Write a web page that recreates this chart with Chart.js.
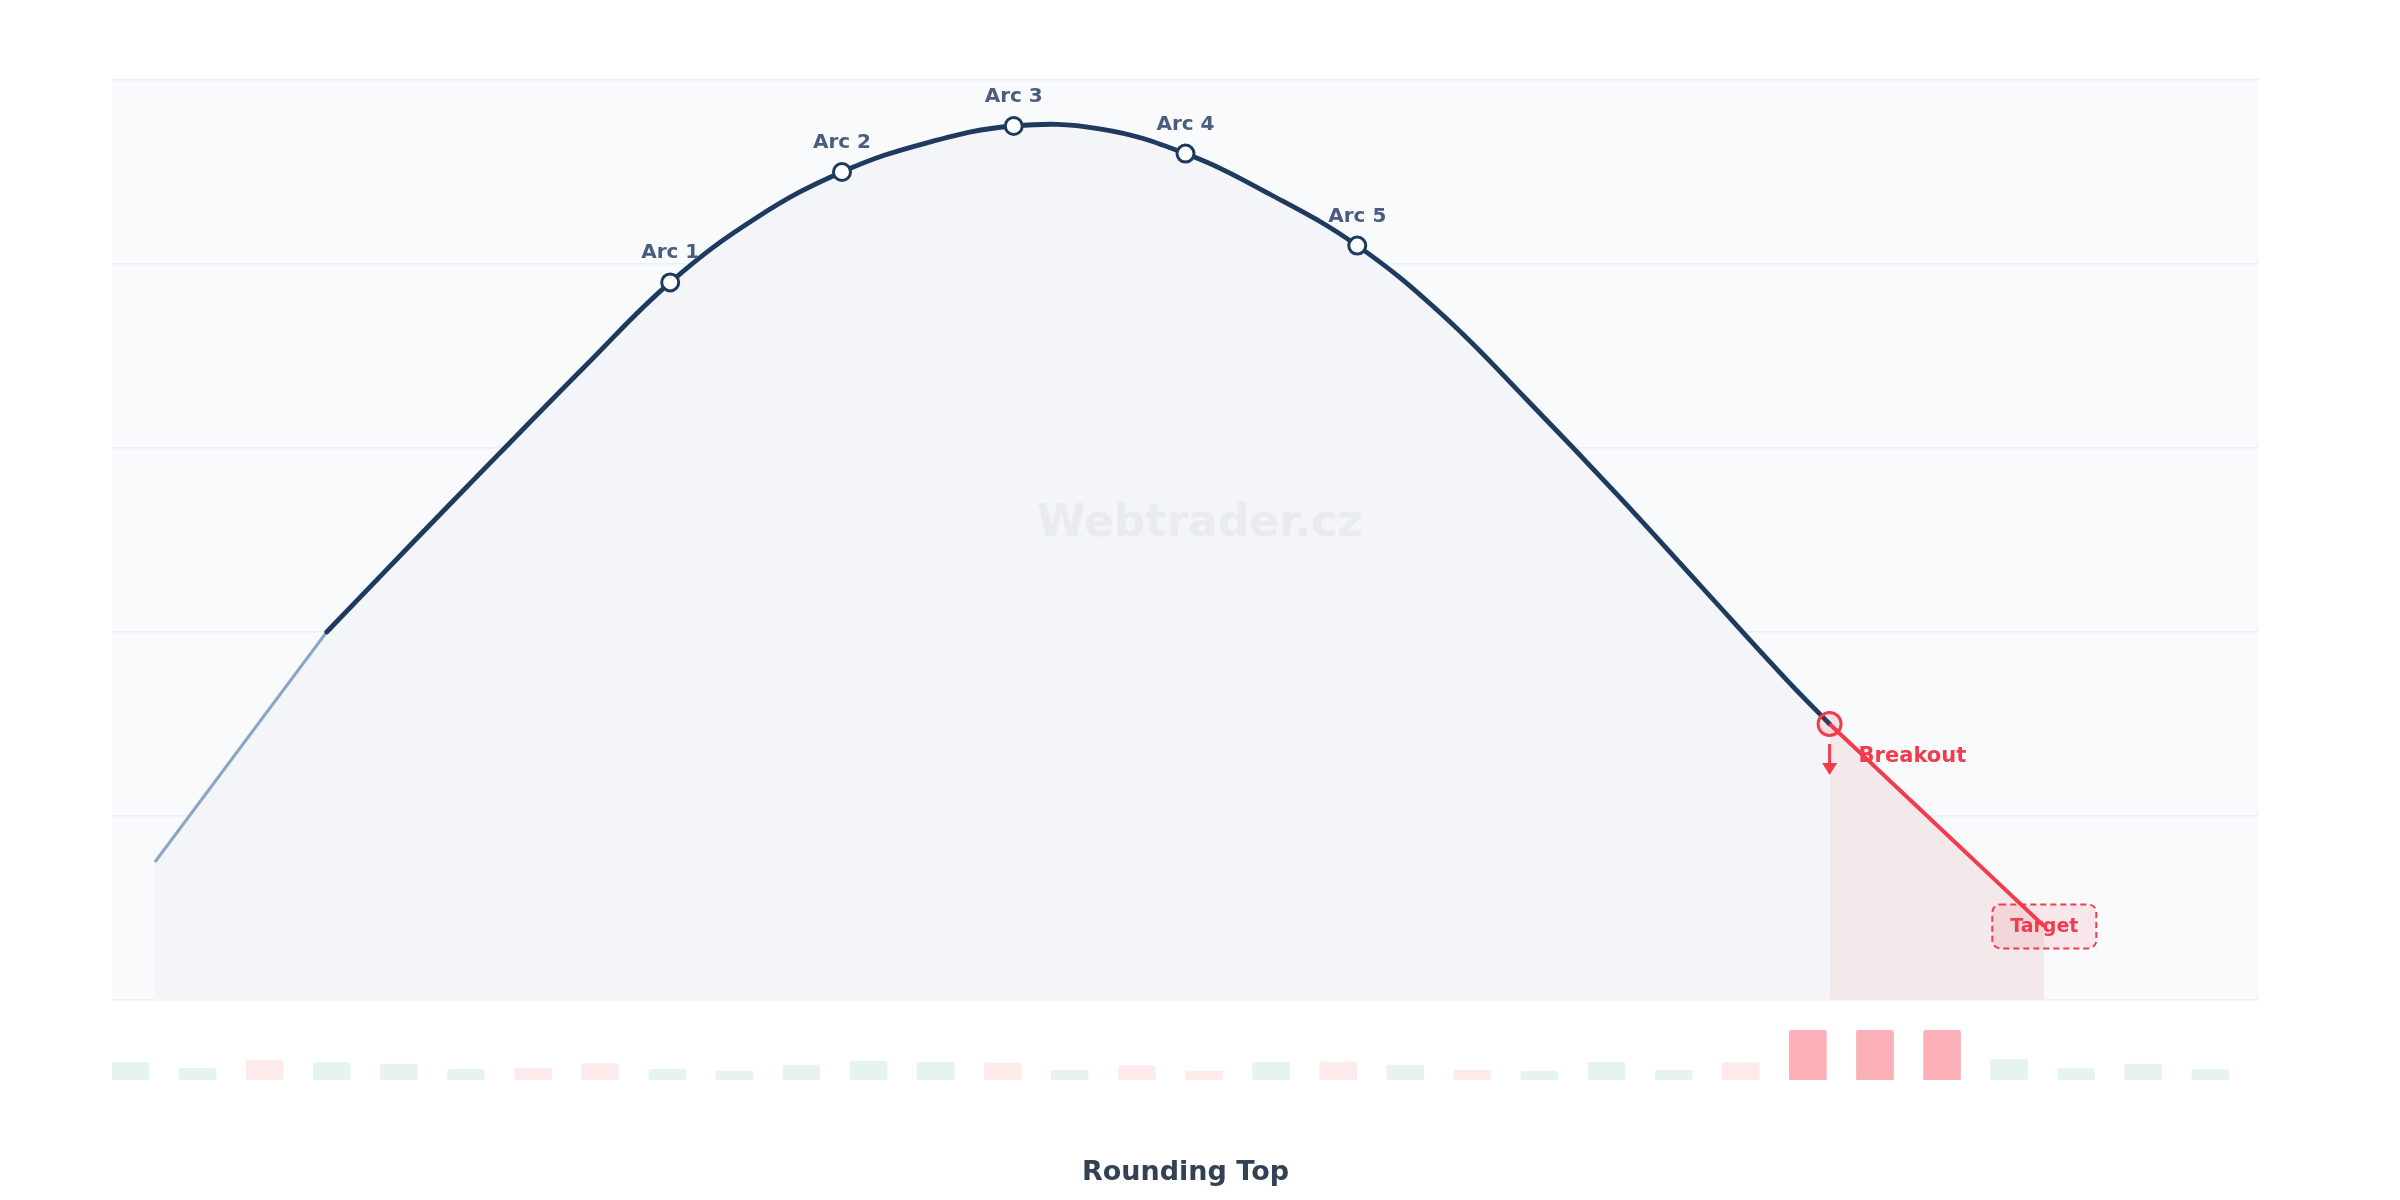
<!DOCTYPE html>
<html>
<head>
<meta charset="utf-8">
<title>Rounding Top</title>
<script src="https://cdn.jsdelivr.net/npm/chart.js@4.4.1/dist/chart.umd.min.js"></script>
<style>
  html, body { margin: 0; padding: 0; background: #ffffff; }
  #wrap { width: 2400px; height: 1200px; }
</style>
</head>
<body>
<div id="wrap"><canvas id="chart"></canvas></div>
<script>
// price path, x = time (0..100), y = price (0..100)
const leadX = [2, 6, 10]
const leadY = [15, 27.5, 40]

const priceX = [10, 14, 18, 22, 26, 30, 34, 38, 42, 46, 50, 54, 58, 62, 66, 70, 74, 78, 80]
const priceY = [40, 49.7, 59.3, 68.8, 78, 85, 90, 93.2, 95, 94.7, 92, 87.5, 82, 74.4, 65, 55.2, 45, 34.8, 30]

// the five arcs of the top
const arcX = [26, 34, 42, 50, 58]
const arcY = [78, 90, 95, 92, 82]
const arcLabels = ['Arc 1', 'Arc 2', 'Arc 3', 'Arc 4', 'Arc 5']

// breakout and target
const breakX = [80, 90]
const breakY = [30, 8]

// volume per session (32 sessions spread over the time axis)
const volume = [1730, 1170, 2000, 1730, 1600, 1070, 1170, 1630, 1070, 900, 1470, 1870, 1770, 1670, 970, 1430,
                900, 1770, 1800, 1470, 970, 870, 1770, 970, 1730, 4970, 4970, 4970, 2070, 1130, 1600, 1030]
const volumeDir = ['up', 'up', 'down', 'up', 'up', 'up', 'down', 'down', 'up', 'up', 'up', 'up', 'up', 'down', 'up', 'down',
                   'down', 'up', 'down', 'up', 'down', 'up', 'up', 'up', 'down', 'break', 'break', 'break', 'up', 'up', 'up', 'up']
const sessionWidth = 100 / volume.length

const NAVY = '#1e3a5f'
const RED = '#f23b4c'
const volColors = { up: '#e5f4ef', down: '#fdebec', break: '#fbafb6' }

Chart.defaults.font.family = "'DejaVu Sans', sans-serif"

const toPts = (xs, ys) => xs.map((x, i) => ({ x: x, y: ys[i] }))

// background of the price pane, watermark, labels, arrow and target box
const decor = {
  id: 'decor',
  beforeDraw(chart) {
    const { ctx, chartArea } = chart
    const y = chart.scales.y
    ctx.save()
    ctx.fillStyle = '#f8fafc'
    ctx.fillRect(chartArea.left, y.top, chartArea.right - chartArea.left, y.bottom - y.top)
    ctx.restore()
  },
  afterDatasetsDraw(chart) {
    const { ctx } = chart
    const x = chart.scales.x
    const y = chart.scales.y

    ctx.save()
    // watermark
    ctx.font = 'bold 44px "DejaVu Sans"'
    ctx.fillStyle = '#e8ebf0'
    ctx.textAlign = 'center'
    ctx.textBaseline = 'middle'
    ctx.fillText('Webtrader.cz', chart.width / 2, y.top + (y.bottom - y.top) * 0.483)

    // arc labels
    ctx.font = 'bold 20px "DejaVu Sans"'
    ctx.fillStyle = '#4a5d7e'
    ctx.textBaseline = 'alphabetic'
    arcX.forEach((v, i) => {
      ctx.fillText(arcLabels[i], x.getPixelForValue(v), y.getPixelForValue(arcY[i]) - 24)
    })

    // breakout arrow + label
    const bx = x.getPixelForValue(breakX[0])
    const by = y.getPixelForValue(breakY[0])
    ctx.strokeStyle = RED
    ctx.fillStyle = RED
    ctx.lineWidth = 3
    ctx.beginPath()
    ctx.moveTo(bx, by + 20)
    ctx.lineTo(bx, by + 41)
    ctx.stroke()
    ctx.beginPath()
    ctx.moveTo(bx - 7.5, by + 39)
    ctx.lineTo(bx + 7.5, by + 39)
    ctx.lineTo(bx, by + 51)
    ctx.closePath()
    ctx.fill()

    ctx.font = 'bold 21px "DejaVu Sans"'
    ctx.textAlign = 'left'
    ctx.fillText('Breakout', bx + 29, by + 38)

    // target box
    const tx = x.getPixelForValue(breakX[1])
    const ty = y.getPixelForValue(breakY[1])
    const w = 104, h = 44
    ctx.beginPath()
    ctx.roundRect(tx - w / 2, ty - h / 2, w, h, 8)
    ctx.fillStyle = 'rgba(242, 59, 76, 0.1)'
    ctx.fill()
    ctx.setLineDash([6, 4])
    ctx.lineWidth = 2
    ctx.strokeStyle = RED
    ctx.stroke()
    ctx.setLineDash([])
    ctx.font = 'bold 19px "DejaVu Sans"'
    ctx.fillStyle = RED
    ctx.textAlign = 'center'
    ctx.textBaseline = 'middle'
    ctx.fillText('Target', tx, ty + 1)
    ctx.restore()
  }
}

new Chart(document.getElementById('chart'), {
  type: 'line',
  data: {
    datasets: [
      {
        // breakout marker
        data: toPts([breakX[0]], [breakY[0]]),
        xAxisID: 'x',
        yAxisID: 'y',
        showLine: false,
        pointRadius: 11.5,
        pointBorderWidth: 3,
        pointBorderColor: RED,
        pointBackgroundColor: 'rgba(242, 59, 76, 0.12)'
      },
      {
        // arcs
        data: toPts(arcX, arcY),
        xAxisID: 'x',
        yAxisID: 'y',
        showLine: false,
        pointRadius: 8.5,
        pointBorderWidth: 3,
        pointBorderColor: NAVY,
        pointBackgroundColor: '#ffffff'
      },
      {
        data: toPts(breakX, breakY),
        xAxisID: 'x',
        yAxisID: 'y',
        borderColor: RED,
        borderWidth: 4,
        pointRadius: 0,
        fill: 'origin',
        backgroundColor: '#f3e8ea',
        tension: 0
      },
      {
        data: toPts(priceX, priceY),
        xAxisID: 'x',
        yAxisID: 'y',
        borderColor: NAVY,
        borderWidth: 4.8,
        borderCapStyle: 'round',
        pointRadius: 0,
        fill: 'origin',
        backgroundColor: '#f3f5f8',
        tension: 0.4
      },
      {
        data: toPts(leadX, leadY),
        xAxisID: 'x',
        yAxisID: 'y',
        borderColor: '#8da6c5',
        borderWidth: 3,
        pointRadius: 0,
        fill: 'origin',
        backgroundColor: '#f3f5f8',
        tension: 0
      },
      {
        type: 'bar',
        // bar centred a little right of each session start
        data: volume.map((v, i) => ({ x: (i + 0.276) * sessionWidth, y: v })),
        xAxisID: 'x',
        yAxisID: 'yv',
        backgroundColor: volumeDir.map(d => volColors[d]),
        borderRadius: 2,
        borderSkipped: false,
        barThickness: 37
      }
    ]
  },
  options: {
    responsive: true,
    maintainAspectRatio: false,
    animation: false,
    events: [],
    layout: { padding: { left: 112, right: 141, top: 80, bottom: 10.6 } },
    scales: {
      x: { type: 'linear', min: 0, max: 100, display: false, offset: false },
      // volume pane sits under the price pane (stack is filled bottom first)
      yv: {
        type: 'linear',
        min: 0,
        max: 8000,
        stack: 'pane',
        stackWeight: 80,
        display: false
      },
      y: {
        type: 'linear',
        min: 0,
        max: 100,
        stack: 'pane',
        stackWeight: 920,
        ticks: { display: false, stepSize: 20 },
        grid: { color: '#eceff3', lineWidth: 1.5, drawTicks: false },
        border: { display: false }
      }
    },
    plugins: {
      legend: { display: false },
      tooltip: { enabled: false },
      title: {
        display: true,
        text: 'Rounding Top',
        position: 'bottom',
        color: '#334155',
        font: { size: 27, weight: 'bold' },
        padding: { top: 77, bottom: 0 }
      }
    }
  },
  plugins: [decor]
})
</script>
</body>
</html>
